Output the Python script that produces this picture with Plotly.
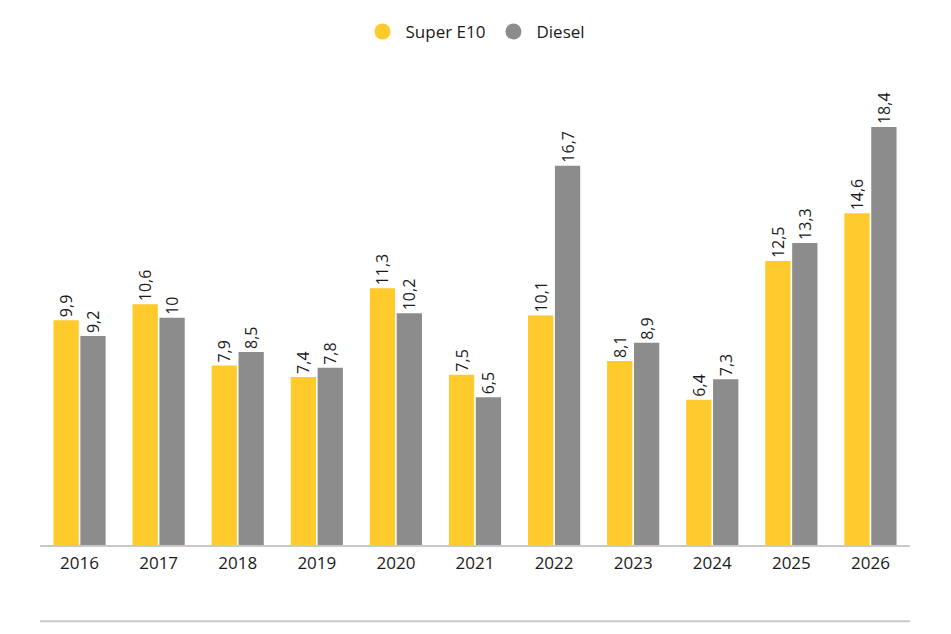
import plotly.graph_objects as go

years = ["2016", "2017", "2018", "2019", "2020", "2021", "2022", "2023", "2024", "2025", "2026"]
super_e10 = [9.9, 10.6, 7.9, 7.4, 11.3, 7.5, 10.1, 8.1, 6.4, 12.5, 14.6]
diesel = [9.2, 10.0, 8.5, 7.8, 10.2, 6.5, 16.7, 8.9, 7.3, 13.3, 18.4]

YELLOW = "#FFCA2B"
GRAY = "#8C8C8C"
FONT = "Open Sans"

def fmt(v):
    s = ("%g" % v)
    return s.replace(".", ",")

fig = go.Figure()
fig.add_trace(go.Bar(
    x=years, y=super_e10, name="Super E10", marker=dict(color=YELLOW, line=dict(width=0)),
    text=[fmt(v) for v in super_e10], textposition="outside", textangle=-90,
    constraintext="none",
    textfont=dict(size=16, color="#1a1a1a", family=FONT), cliponaxis=False, showlegend=False))
fig.add_trace(go.Bar(
    x=years, y=diesel, name="Diesel", marker=dict(color=GRAY, line=dict(width=0)),
    text=[fmt(v) for v in diesel], textposition="outside", textangle=-90,
    constraintext="none",
    textfont=dict(size=16, color="#1a1a1a", family=FONT), cliponaxis=False, showlegend=False))

# legend entries with circular markers
for name, col in [("Super E10", YELLOW), ("Diesel", GRAY)]:
    fig.add_trace(go.Scatter(x=[None], y=[None], mode="markers", name=name,
                             marker=dict(color=col, size=21, symbol="circle")))

fig.update_layout(
    width=951, height=634,
    margin=dict(l=40, r=41, t=68, b=89),
    paper_bgcolor="white", plot_bgcolor="white",
    barmode="group", bargap=0.32, bargroupgap=0.06,
    font=dict(family=FONT, size=16, color="#1a1a1a"),
    legend=dict(orientation="h", x=0.5, xanchor="center", y=0.978, yanchor="top",
                yref="container", font=dict(size=17, family=FONT), itemsizing="trace",
                itemwidth=36, traceorder="normal"),
    xaxis=dict(showgrid=False, showline=True, linecolor="#c8c8c8", linewidth=2,
               ticks="", ticklabelstandoff=2,
               tickfont=dict(size=17, family=FONT, color="#1a1a1a")),
    yaxis=dict(range=[0, 21], showgrid=False, showticklabels=False, zeroline=False,
               showline=False),
    shapes=[dict(type="line", xref="paper", yref="paper", x0=0, x1=1.0, y0=-0.16, y1=-0.16,
                 line=dict(color="#c8c8c8", width=2))],
)

fig.write_html("out.html")
